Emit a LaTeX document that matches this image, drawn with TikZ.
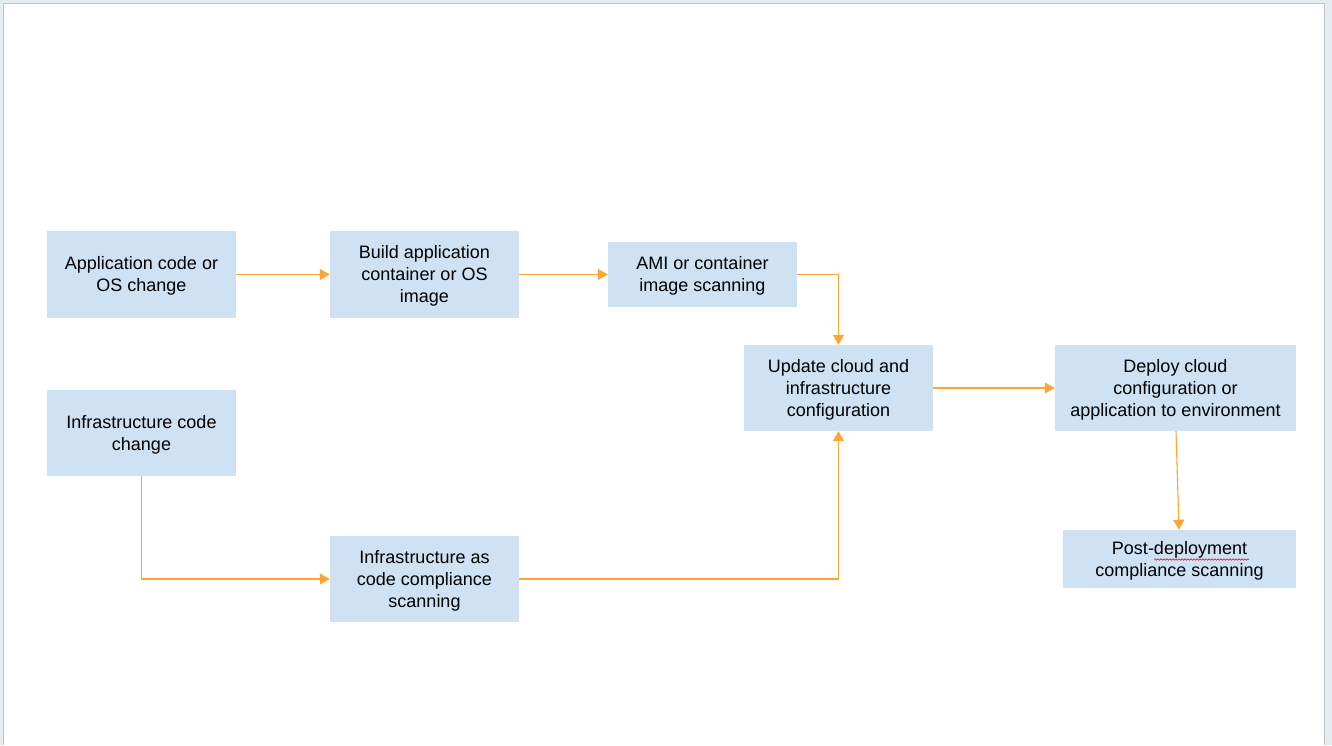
\documentclass[tikz,border=0pt]{standalone}
\usepackage{fontspec}
\setmainfont{Liberation Sans}
\usetikzlibrary{arrows.meta, positioning, decorations.pathmorphing}
\definecolor{boxblue}{HTML}{CFE2F3}
\definecolor{flow}{HTML}{FFA536}
\definecolor{pageback}{HTML}{E5ECEF}
\definecolor{pageedge}{HTML}{C3C6C8}
\newcommand{\ls}{\rule[-4pt]{0pt}{21pt}}
\tikzstyle{stage} = [rectangle, minimum width=189pt, minimum height=86pt, text centered, align=center, fill=boxblue, inner sep=0pt, font=\fontsize{18}{22}\selectfont]
\tikzstyle{arrow} = [draw=flow, line width=1.1pt, -{Triangle[length=10pt, width=11pt]}]
\tikzstyle{spellcheck} = [draw=red!85!black, line width=0.5pt, decorate, decoration={snake, amplitude=0.8pt, segment length=3pt}]

\begin{document}
\begin{tikzpicture}[x=1pt, y=-1pt]

% Page
\fill[pageback] (0,0) rectangle (1332,745);
\fill[white] (4,3) rectangle (1325,745);
\draw[pageedge, line width=1pt] (3.5,745) -- (3.5,3.5) -- (1324.5,3.5) -- (1324.5,745);
\useasboundingbox (0,0) rectangle (1332,745);

% Nodes
\node (app) [stage, minimum height=87pt] at (141.5,274.5) {\ls Application code or\\OS change\ls};
\node (build) [stage, minimum height=87pt] at (424.5,274.5) {\ls Build application\\container or OS\\image\ls};
\node (ami) [stage, minimum height=65pt] at (702.5,274.5) {\ls AMI or container\\image scanning\ls};
\node (update) [stage] at (838.5,388) {\ls Update cloud and\\infrastructure\\configuration\ls};
\node (deploy) [stage, minimum width=241pt] at (1175.5,388) {\ls Deploy cloud\\configuration or\\application to environment\ls};
\node (post) [stage, minimum width=233pt, minimum height=58pt] at (1179.5,559) {\ls Post-deployment\\compliance scanning\ls};
\node (infra) [stage] at (141.5,433) {\ls Infrastructure code\\change\ls};
\node (iac) [stage] at (424.5,579) {\ls Infrastructure as\\code compliance\\scanning\ls};

% Spelling mark
\draw [spellcheck] (1154,559.5) -- (1249,559.5);

% Arrows
\draw [arrow] (app) -- (build);
\draw [arrow] (build) -- (ami);
\draw [arrow] (ami.east) -| (update.north);
\draw [arrow] (infra.south) |- (iac.west);
\draw [arrow] (iac.east) -| (update.south);
\draw [arrow] (update) -- (deploy);
\draw [arrow] ([xshift=0.5pt]deploy.south) -- ([xshift=-0.5pt]post.north);

\end{tikzpicture}
\end{document}
